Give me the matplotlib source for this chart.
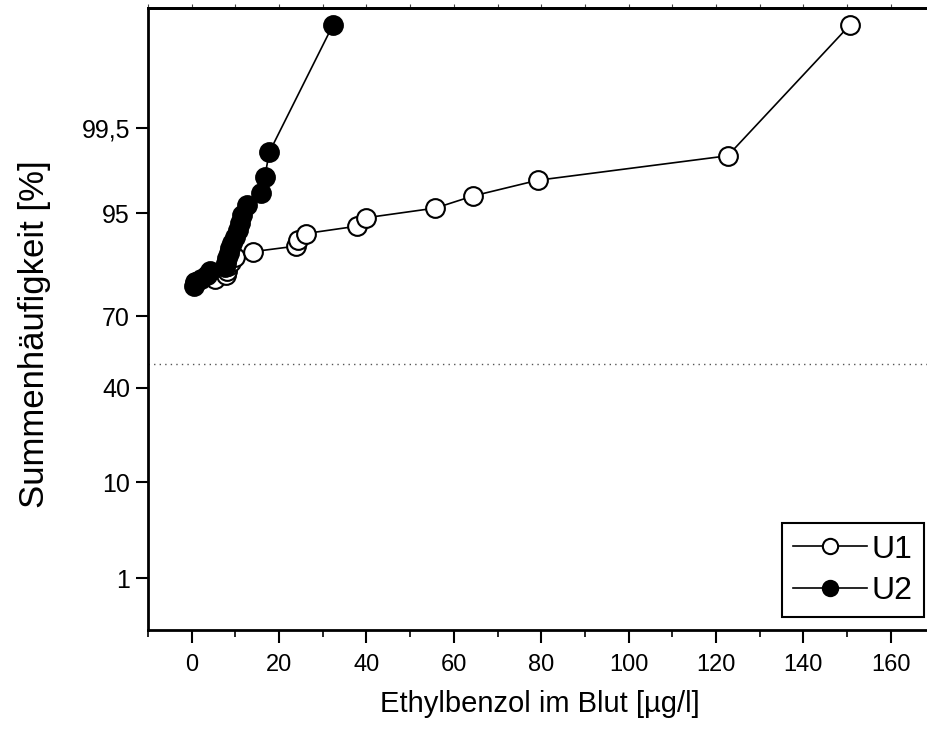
import math
import numpy as np
import matplotlib
matplotlib.use("Agg")
import matplotlib.pyplot as plt

# Summenhäufigkeit (%) gegen Ethylbenzol-Konzentration (µg/l)
u1_x = [0.8, 5.3, 7.9, 8.1, 8.4, 9.0, 10.0, 14.0, 23.8, 24.3, 26.1,
        37.8, 39.8, 55.8, 64.3, 79.2, 122.7, 150.6]
u1_p = [81.41, 82.50, 83.59, 84.68, 85.77, 86.86, 87.95, 89.04, 90.13, 91.22,
        92.31, 93.40, 94.49, 95.58, 96.67, 97.76, 98.85, 99.989]

u2_x = [0.6, 1.0, 2.2, 3.5, 4.3, 7.6, 7.9, 8.1, 8.5, 8.8, 9.3, 9.8, 10.6,
        11.0, 11.6, 12.6, 15.8, 16.7, 17.8, 32.3]
u2_p = [80.43, 81.46, 82.49, 83.52, 84.55, 85.58, 86.61, 87.64, 88.67, 89.70,
        90.73, 91.76, 92.79, 93.82, 94.85, 95.88, 96.91, 97.94, 98.97, 99.989]

y_ticks = [1, 10, 40, 70, 95, 99.5]
y_ticklabels = ["1", "10", "40", "70", "95", "99,5"]

_erf = np.vectorize(math.erf, otypes=[float])


def cdf(z):
    z = np.asarray(z, dtype=float)
    return 100.0 * 0.5 * (1.0 + _erf(z / math.sqrt(2.0)))


def ppf(p):
    # Wahrscheinlichkeitsnetz: Prozent -> Normalquantil (Bisektion)
    q = np.clip(np.asarray(p, dtype=float), 1e-10, 100 - 1e-10)
    lo = np.full(q.shape, -10.0)
    hi = np.full(q.shape, 10.0)
    for _ in range(60):
        mid = 0.5 * (lo + hi)
        below = cdf(mid) < q
        lo = np.where(below, mid, lo)
        hi = np.where(below, hi, mid)
    return 0.5 * (lo + hi)


plt.rcParams["font.family"] = ["Liberation Sans", "DejaVu Sans"]

fig = plt.figure(figsize=(9.27, 7.38), dpi=100)
ax = fig.add_axes([148 / 927, 1 - 630 / 738, 779 / 927, 622 / 738])
ax.set_yscale("function", functions=(ppf, cdf))

ax.axhline(50, color="#555555", linestyle=(0, (1, 3)), linewidth=1.0)

ax.plot(u1_x, u1_p, color="black", linewidth=1.2, marker="o", markersize=13.5,
        markerfacecolor="white", markeredgecolor="black", markeredgewidth=1.5,
        label="U1")
ax.plot(u2_x, u2_p, color="black", linewidth=1.2, marker="o", markersize=13.5,
        markerfacecolor="black", markeredgecolor="black", markeredgewidth=1.5,
        label="U2")

ax.set_xlim(-10, 168.3)
ax.set_ylim(float(cdf(-2.892)), float(cdf(3.883)))

ax.set_xticks(np.arange(0, 161, 20))
ax.set_xticks(np.arange(-10, 168, 10), minor=True)
ax.set_yticks(y_ticks)
ax.set_yticklabels(y_ticklabels)
ax.yaxis.set_minor_locator(matplotlib.ticker.NullLocator())

ax.tick_params(axis="x", which="major", direction="out", length=9, width=1.5,
               labelsize=17, pad=8)
ax.tick_params(axis="x", which="minor", direction="out", length=5, width=1.2)
ax.tick_params(axis="y", which="major", direction="out", length=9, width=1.5,
               labelsize=18, pad=4)

top = ax.secondary_xaxis("top")
top.set_xticks(np.arange(-10, 168, 10))
top.tick_params(direction="out", length=3, width=0.8, labeltop=False,
                color="#444444")

for side in ("left", "bottom", "top"):
    ax.spines[side].set_linewidth(2.0)
top.spines["top"].set_linewidth(2.0)
ax.spines["right"].set_visible(False)

ax.set_xlabel("Ethylbenzol im Blut [µg/l]", fontsize=21)
ax.xaxis.set_label_coords(0.503, -0.097)
ax.set_ylabel("Summenhäufigkeit [%]", fontsize=25)
ax.yaxis.set_label_coords(-0.124, 0.476)

leg = ax.legend(loc="lower right", bbox_to_anchor=(0.996, 0.021), fontsize=23,
                frameon=True, fancybox=False, framealpha=1, edgecolor="black",
                handlelength=2.3, handletextpad=0.15, borderpad=0.35,
                labelspacing=0.35, borderaxespad=0)
leg.get_frame().set_linewidth(1.5)
for line in leg.get_lines():
    line.set_markersize(11)

fig.savefig("out.png", dpi=100)
